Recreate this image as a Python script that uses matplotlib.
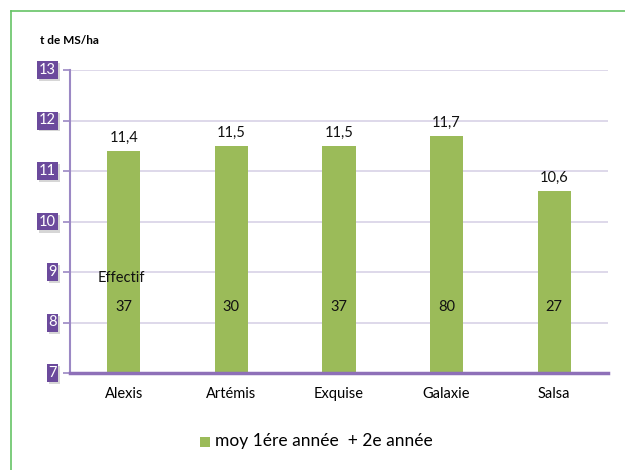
import matplotlib
matplotlib.use("Agg")
import matplotlib.pyplot as plt
from matplotlib.patches import Rectangle
from matplotlib.lines import Line2D

categories = ["Alexis", "Artémis", "Exquise", "Galaxie", "Salsa"]
values = [11.4, 11.5, 11.5, 11.7, 10.6]
value_labels = ["11,4", "11,5", "11,5", "11,7", "10,6"]
effectifs = ["37", "30", "37", "80", "27"]
yticks = [7, 8, 9, 10, 11, 12, 13]
legend_label = "moy 1ére année  + 2e année"
ylabel = "t de MS/ha"

plt.rcParams['font.family'] = ['Lato', 'DejaVu Sans']

W, H = 625, 470
fig = plt.figure(figsize=(6.25, 4.7), dpi=100)
# green border
fig.add_artist(Line2D([11/W, 11/W], [0, 1 - 11/H], color="#66c466", lw=1.2, transform=fig.transFigure))
fig.add_artist(Line2D([11/W, 1], [1 - 11/H, 1 - 11/H], color="#66c466", lw=1.2, transform=fig.transFigure))

ax = fig.add_axes([70/W, 1 - 373/H, 538/W, 303/H])
bar_color = "#9bbb59"
x = list(range(len(categories)))
ax.bar(x, values, width=0.31, color=bar_color, zorder=3)
ax.set_xlim(-0.5, len(categories) - 0.5)
ax.set_ylim(7, 13)

for yv in yticks[1:]:
    ax.axhline(yv, color="#d8d2e6", lw=1.2, zorder=1)

for sp in ["top", "right"]:
    ax.spines[sp].set_visible(False)
ax.spines["left"].set_color("#9b88c4")
ax.spines["left"].set_linewidth(1.5)
ax.spines["bottom"].set_color("#8e70b8")
ax.spines["bottom"].set_linewidth(2.5)
ax.spines["bottom"].set_zorder(4)

ax.set_xticks(x)
ax.set_xticklabels(categories, fontsize=10.5)
ax.tick_params(axis="x", length=0, pad=10)
ax.set_yticks(yticks)
ax.set_yticklabels([])
ax.tick_params(axis="y", length=5, color="#9b88c4", width=1.2)

# tick label boxes (purple, with soft shadow), right-aligned
y0, y1 = 373, 70
bh = 18
right = 58
for yv in yticks:
    py = y0 + (yv - 7) * (y1 - y0) / 6.0
    bw = 11 if len(str(yv)) == 1 else 21
    left = right - bw
    fig.patches.append(Rectangle(((left + 2)/W, 1 - (py + bh/2 + 2)/H), bw/W, bh/H,
                                 transform=fig.transFigure, fc="#bbbbbb", ec="none", alpha=0.6))
    fig.patches.append(Rectangle((left/W, 1 - (py + bh/2)/H), bw/W, bh/H,
                                 transform=fig.transFigure, fc="#6b4a9c", ec="none"))
    fig.text((left + bw/2)/W, 1 - py/H, str(yv), ha="center", va="center", fontsize=10.5, color="white")

for xi, v, lab, eff in zip(x, values, value_labels, effectifs):
    ax.text(xi, v + 0.12, lab, ha="center", va="bottom", fontsize=10.5, color="#111111", zorder=5)
    ax.text(xi, 8.3, eff, ha="center", va="center", fontsize=10.5, color="#111111", zorder=5)
ax.text(-0.02, 8.88, "Effectif", ha="center", va="center", fontsize=10.5, color="#111111", zorder=5)

fig.text(40/W, 1 - 40/H, ylabel, fontsize=8.5, fontweight="bold", ha="left", va="center")

# legend
fig.patches.append(Rectangle((200/W, 1 - 447/H), 10/W, 10/H, transform=fig.transFigure,
                             fc=bar_color, ec="none"))
fig.text(215/W, 1 - 441/H, legend_label, fontsize=12.5, ha="left", va="center")

fig.savefig("out.png", dpi=100)
